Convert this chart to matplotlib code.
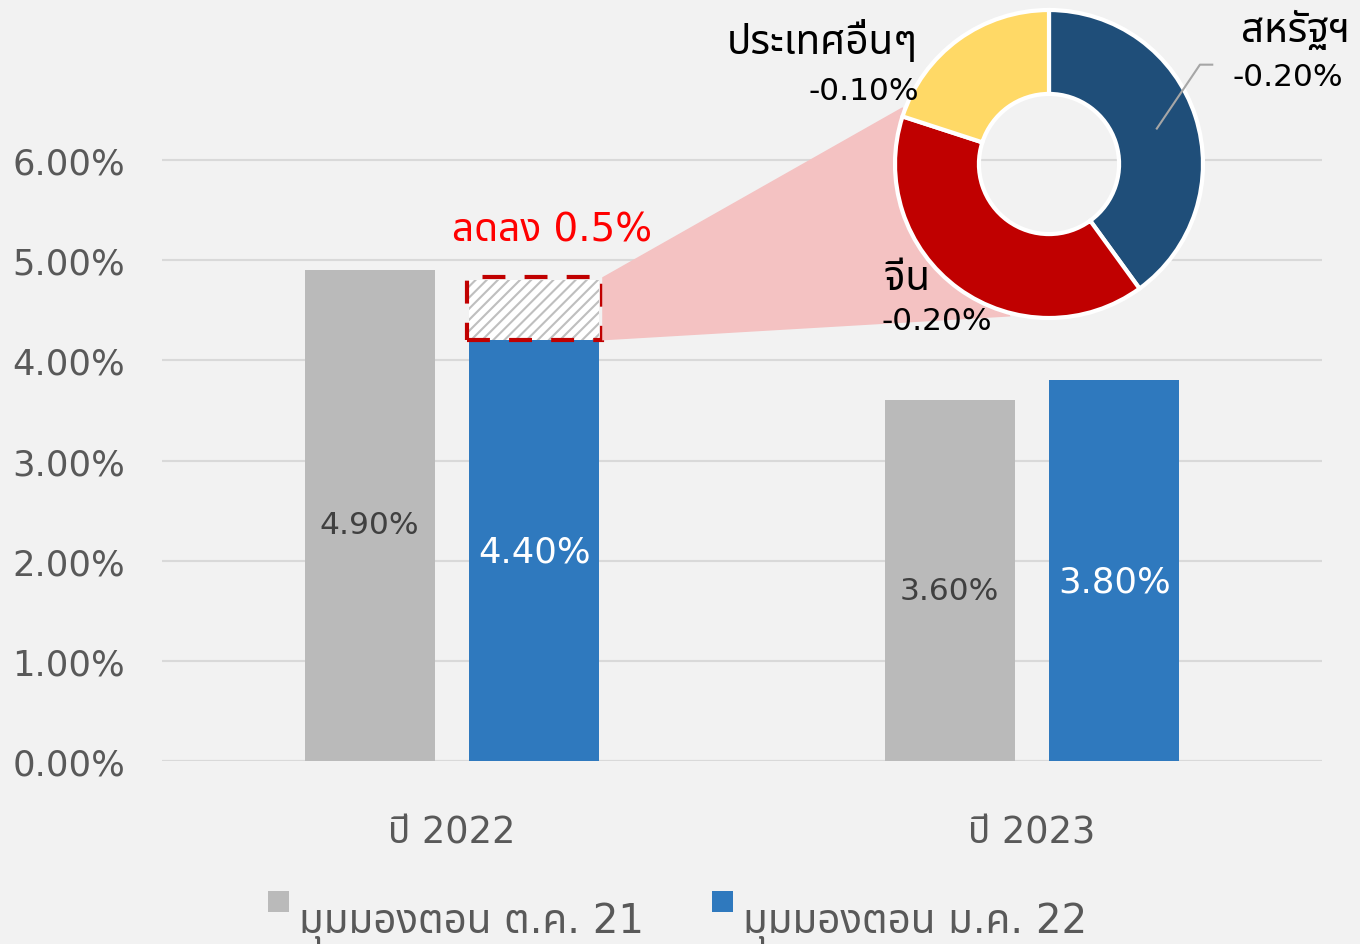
import matplotlib
matplotlib.use("Agg")
import matplotlib.pyplot as plt
from matplotlib.patches import Rectangle, Polygon
import numpy as np

# ---------------- data ----------------
categories = ["ปี 2022", "ปี 2023"]
series_names = ["มุมมองตอน ต.ค. 21", "มุมมองตอน ม.ค. 22"]
oct21_values = [4.9, 3.6]
jan22_values = [4.2, 3.8]
oct21_labels = ["4.90%", "3.60%"]
jan22_labels = ["4.40%", "3.80%"]
cut_range = [4.2, 4.8]          # hatched reduction area on 2022 bar
cut_text = "ลดลง 0.5%"
pie_labels = ["สหรัฐฯ", "จีน", "ประเทศอื่นๆ"]
pie_values = [0.2, 0.2, 0.1]
pie_value_labels = ["-0.20%", "-0.20%", "-0.10%"]
y_ticks = [0, 1, 2, 3, 4, 5, 6]

# ---------------- style ----------------
FONT = ["DejaVu Sans", "Noto Sans Thai", "Noto Sans"]
plt.rcParams["font.family"] = FONT
BG = "#f2f2f2"
GRAY_BAR = "#bababa"
BLUE_BAR = "#2f79be"
PIE_COLORS = ["#1f4e79", "#c00000", "#ffd966"]
TXT = "#595959"

fig = plt.figure(figsize=(13.6, 9.45), dpi=100, facecolor=BG)
W, H = 1360, 945

def fx(px):
    return px / W

def fy(py):
    return 1 - py / H

ax = fig.add_axes([fx(162), fy(762), fx(1322) - fx(162), fy(61) - fy(762)])
ax.set_facecolor(BG)
ax.set_ylim(0, 7)
ax.set_xlim(-0.5, 1.5)

x = np.arange(len(categories))
bw = 0.224
off = 0.142
ax.bar(x - off, oct21_values, bw, color=GRAY_BAR, zorder=3)
ax.bar(x + off, jan22_values, bw, color=BLUE_BAR, zorder=3)

# grid
ax.set_yticks(y_ticks)
ax.set_yticklabels([f"{v:.2f}%" for v in y_ticks])
ax.grid(axis="y", color="#d9d9d9", linewidth=1.5, zorder=0)
for s in ax.spines.values():
    s.set_visible(False)
ax.axhline(0, color="#d9d9d9", linewidth=1.5, zorder=1)
ax.tick_params(axis="y", length=0, labelsize=25.5, labelcolor=TXT, pad=26.5)
ax.set_xticks(x)
ax.set_xticklabels(categories)
ax.tick_params(axis="x", length=0, labelsize=26.5, labelcolor=TXT, pad=37.5)

# bar value labels
oct_label_y = [2.36, 1.70]
jan_label_y = [2.09, 1.79]
for i in range(len(categories)):
    ax.text(x[i] - off, oct_label_y[i], oct21_labels[i], ha="center", va="center",
            fontsize=22.5, color="#404040", zorder=5)
    ax.text(x[i] + off, jan_label_y[i], jan22_labels[i], ha="center", va="center",
            fontsize=25.5, color="white", zorder=5)

# hatched reduction area
plt.rcParams["hatch.linewidth"] = 1.5
hatch = Rectangle((x[0] + off - bw / 2, cut_range[0]), bw, cut_range[1] - cut_range[0],
                  facecolor="white", edgecolor="#bfbfbf", hatch="///", linewidth=0, zorder=3)
ax.add_patch(hatch)
pad_x = 0.005
box = Rectangle((x[0] + off - bw / 2 - pad_x, cut_range[0]), bw + 2 * pad_x,
                cut_range[1] - cut_range[0] + 0.03, facecolor="none", edgecolor="#c00000",
                linewidth=3, linestyle=(0, (5.5, 4.6)), zorder=6)
ax.add_patch(box)
ax.text(x[0] + off + 0.03, 5.31, cut_text, ha="center", va="center", fontsize=28,
        color="#ff0000", zorder=6)

# ---------------- donut ----------------
pax = fig.add_axes([fx(895), fy(319), fx(1203) - fx(895), fy(11) - fy(319)], zorder=3)
pax.set_facecolor("none")
wedges, _ = pax.pie(pie_values, colors=PIE_COLORS, startangle=90, counterclock=False,
                    radius=1, wedgeprops=dict(width=0.545, edgecolor="white", linewidth=3))
pax.set_xlim(-1.0, 1.0)
pax.set_ylim(-1.0, 1.0)
pax.set_aspect("equal")
pax.axis("off")

name_pos = [(1.60, 0.87), (-0.92, -0.74), (-1.47, 0.80)]
val_pos = [(1.55, 0.57), (-0.73, -1.015), (-1.20, 0.48)]
for i in range(len(pie_labels)):
    pax.text(*name_pos[i], pie_labels[i], ha="center", va="center", fontsize=29,
             color="black", clip_on=False)
    pax.text(*val_pos[i], pie_value_labels[i], ha="center", va="center", fontsize=22.5,
             color="black", clip_on=False)
pax.plot([0.70, 0.98, 1.06], [0.23, 0.645, 0.645], color="#a6a6a6", linewidth=1.5,
         clip_on=False)

# pink connector polygon (from hatched box to donut)
fig.canvas.draw()
to_fig = fig.transFigure.inverted()
bx_right = x[0] + off + bw / 2 + pad_x
p1 = ax.transData.transform((bx_right, cut_range[1] + 0.03))
p4 = ax.transData.transform((bx_right, cut_range[0]))
ang = np.deg2rad(162)
p2 = pax.transData.transform((np.cos(ang), np.sin(ang) + 0.06))
p3 = pax.transData.transform((-0.25, -0.99))
pts = to_fig.transform(np.array([p1, p2, p3, p4]))
poly = Polygon(pts, closed=True, transform=fig.transFigure, facecolor="#f4c2c2",
               edgecolor="none", zorder=1)
fig.add_artist(poly)
ax.set_zorder(0.5)
ax.patch.set_visible(False)

# legend (manual)
leg_items = [(268, GRAY_BAR, series_names[0]), (712, BLUE_BAR, series_names[1])]
for px, col, name in leg_items:
    fig.add_artist(Rectangle((fx(px), fy(913)), fx(21), 21 / H, transform=fig.transFigure,
                             facecolor=col, edgecolor="none"))
    fig.text(fx(px + 31), fy(923), name, ha="left", va="center", fontsize=29, color=TXT)

fig.savefig("out.png", dpi=100, facecolor=BG)
